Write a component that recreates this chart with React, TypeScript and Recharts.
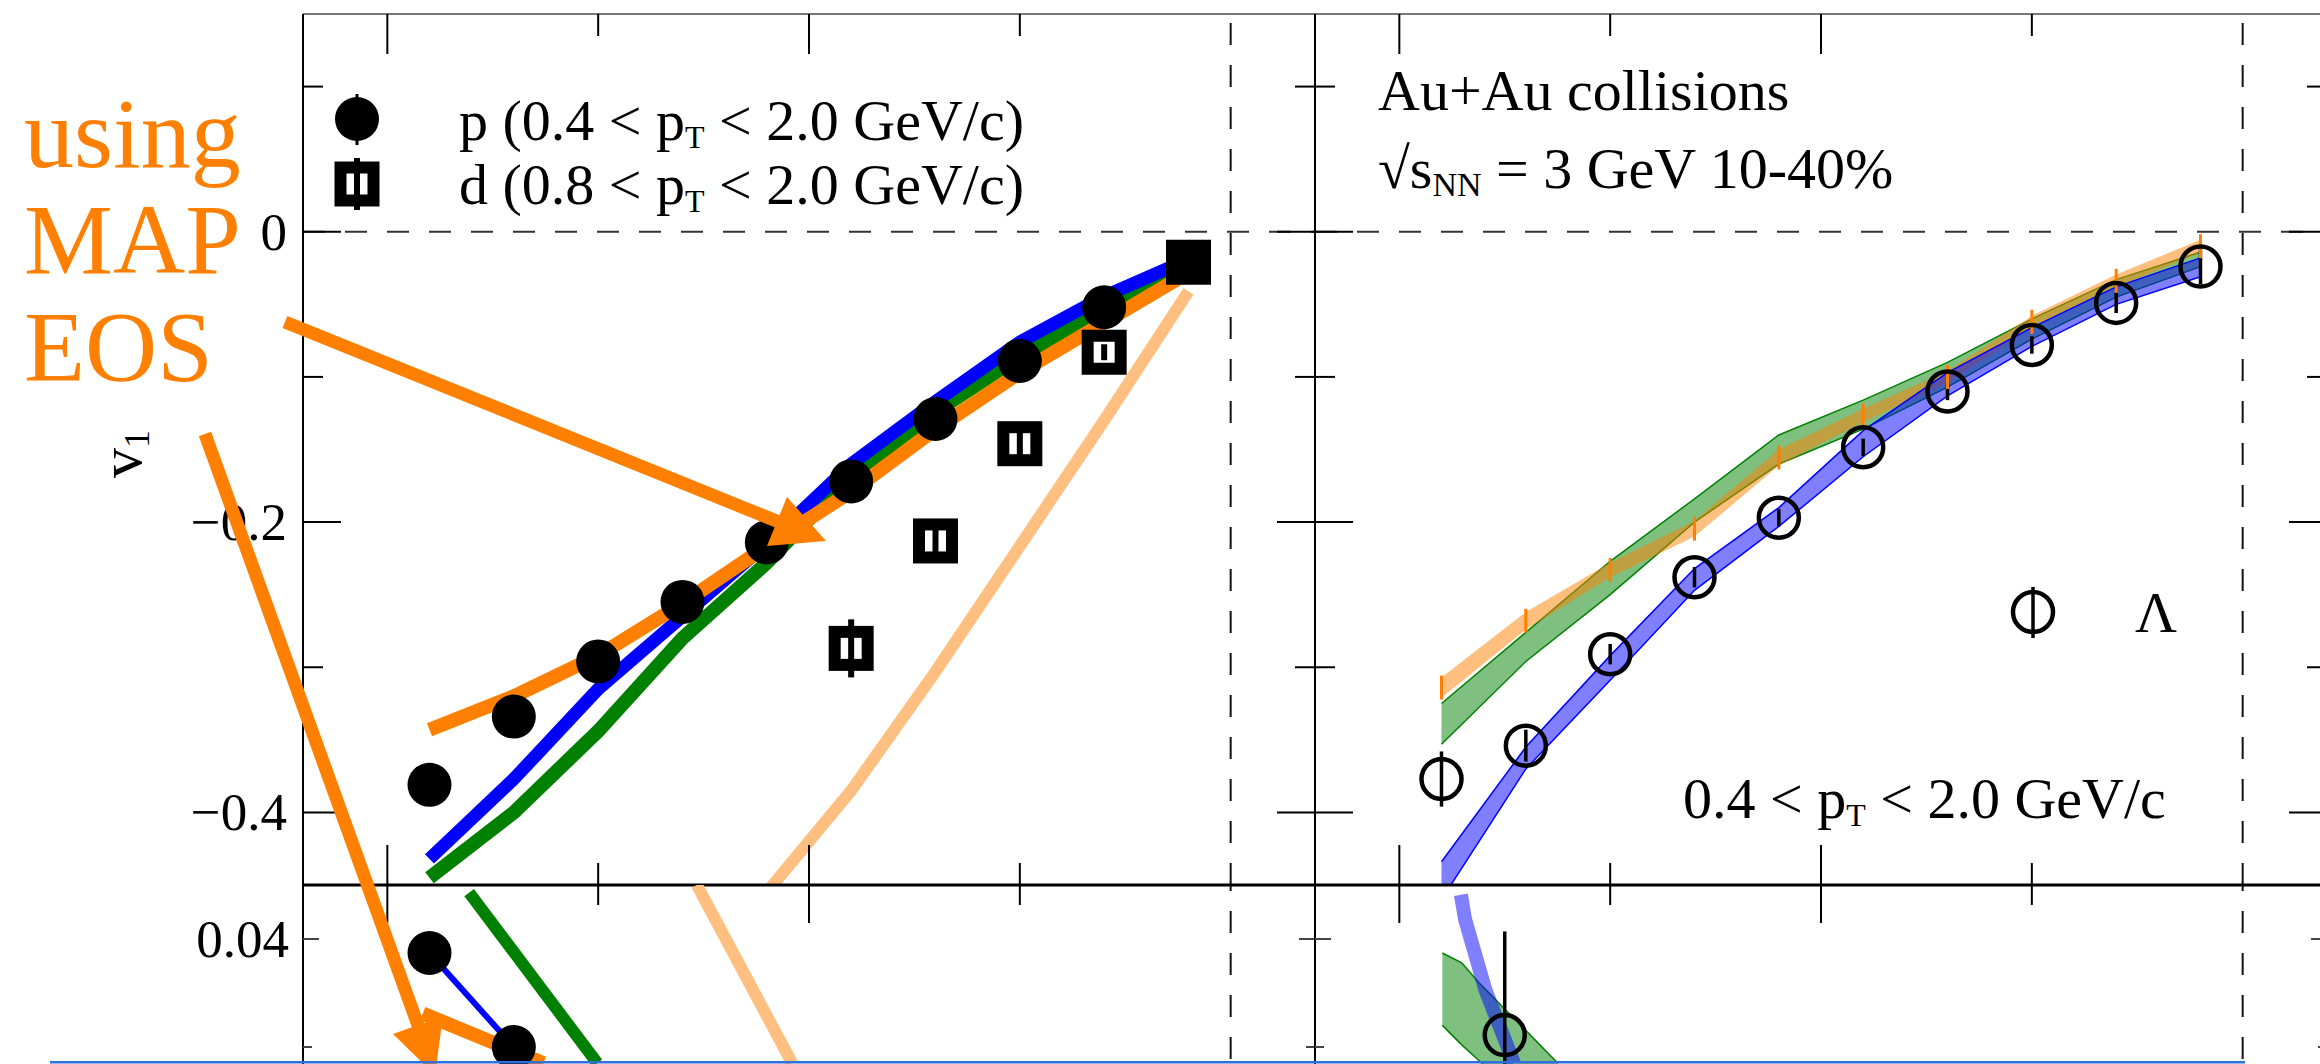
import React from 'react';
import { ComposedChart, Line, Area, Scatter, XAxis, YAxis, ReferenceLine, ErrorBar } from 'recharts';

// rapidity bins and v1 values
const RAPIDITY = [-0.95, -0.85, -0.75, -0.65, -0.55, -0.45, -0.35, -0.25, -0.15, -0.05];
const PROTON_V1 = [-0.381, -0.334, -0.296, -0.255, -0.214, -0.172, -0.129, -0.089, -0.052, -0.021];
const PROTON_BLUE = [-0.432, -0.377, -0.315, -0.265, -0.215, -0.16, -0.117, -0.076, -0.0445, -0.019];
const PROTON_GREEN = [-0.445, -0.4, -0.344, -0.28, -0.228, -0.168, -0.124, -0.086, -0.0535, -0.025];
const PROTON_MAP = [-0.343, -0.32, -0.292, -0.256, -0.2165, -0.179, -0.136, -0.097, -0.0625, -0.028];

const DEUTERON_RAPIDITY = [-0.45, -0.35, -0.25, -0.15, -0.05];
const DEUTERON_V1 = [-0.287, -0.213, -0.146, -0.083, -0.021];
const DEUTERON_ERR = [0.02, 0.009, 0.009, 0.0055, 0.009];
const DEUTERON_MAP_RAPIDITY = [-0.55, -0.45, -0.35, -0.25, -0.15, -0.05];
const DEUTERON_MAP = [-0.455, -0.385, -0.303, -0.2165, -0.13, -0.041];

const LAMBDA_V1 = [-0.377, -0.354, -0.291, -0.238, -0.197, -0.1485, -0.11, -0.078, -0.049, -0.024];
const LAMBDA_ERR = [0.019, 0.011, 0.007, 0.007, 0.006, 0.006, 0.006, 0.006, 0.007, 0.012];
const LAMBDA_BLUE_LO = [-0.46, -0.37, -0.309, -0.247, -0.203, -0.155, -0.113, -0.079, -0.05, -0.031];
const LAMBDA_BLUE_HI = [-0.434, -0.355, -0.292, -0.232, -0.19, -0.137, -0.097, -0.066, -0.038, -0.018];
const LAMBDA_GREEN_LO = [-0.353, -0.296, -0.25, -0.2, -0.16, -0.136, -0.107, -0.074, -0.045, -0.024];
const LAMBDA_GREEN_HI = [-0.325, -0.276, -0.227, -0.184, -0.14, -0.116, -0.09, -0.06, -0.033, -0.014];
const LAMBDA_MAP_LO = [-0.321, -0.274, -0.238, -0.21, -0.161, -0.131, -0.104, -0.066, -0.038, -0.0145];
const LAMBDA_MAP_HI = [-0.307, -0.262, -0.228, -0.199, -0.15, -0.122, -0.096, -0.058, -0.0295, -0.0055];

// lower (ratio) panels, only the top strip is visible
const LOW_P_RAPIDITY = [-0.95, -0.85];
const LOW_P = [0.0387, 0.03];
const LOW_GREEN_RAPIDITY = [-0.903, -0.751];
const LOW_GREEN = [0.0443, 0.0285];
const LOW_DMAP_RAPIDITY = [-0.633, -0.52];
const LOW_DMAP = [0.045, 0.0285];
const LOW_MAP_RAPIDITY = [-0.958, -0.815];
const LOW_MAP = [0.0331, 0.0285];
const LOW_L_RAPIDITY = [-0.875];
const LOW_L = [0.0311];
const LOW_L_ERR = [0.0096];
const LOW_L_BLUE_RAPIDITY = [-0.927, -0.922, -0.898, -0.864];
const LOW_L_BLUE = [0.0441, 0.0418, 0.0353, 0.0285];
const LOW_L_GREEN_RAPIDITY = [-0.949, -0.926, -0.905, -0.812];
const LOW_L_GREEN_LO = [0.032, 0.0302, 0.0287, 0.0218];
const LOW_L_GREEN_HI = [0.0387, 0.0378, 0.0359, 0.0285];

const X_TICKS = [-1, -0.75, -0.5, -0.25, 0];
const UP_TICKS = [0.1, 0, -0.1, -0.2, -0.3, -0.4];
const LOW_TICKS = [0.04, 0.03];

const SERIF = '"Liberation Serif", "Times New Roman", Times, serif';
const ORANGE = '#ff8000';
const LIGHT_ORANGE = '#ffbf80';

// layout (px)
const LEFT_X = 303;
const MID_X = 1315;
const PANEL_W = 1012;
const TOP_Y = 14;
const SPLIT_Y = 885;
const UP_H = SPLIT_Y - TOP_Y;
const LOW_H = 216;
const PAD = 60;
const LEFT_PAD = 300;
const RIGHT_PAD = 100;

const pts = (xs: number[], ys: number[]) => xs.map((x, i) => ({ x, y: ys[i] }));
const withErr = (xs: number[], ys: number[], es: number[]) => xs.map((x, i) => ({ x, y: ys[i], err: es[i] }));
const band = (xs: number[], lo: number[], hi: number[]) => xs.map((x, i) => ({ x, band: [lo[i], hi[i]] }));
const mid = (xs: number[], lo: number[], hi: number[]) => xs.map((x, i) => ({ x, y: (lo[i] + hi[i]) / 2 }));

const fmt = (v: number) => (v === 0 ? '0' : (v < 0 ? '\u2212' : '') + String(Math.abs(v)));

const tickText = (x: number, y: number, label: string) => (
  <text x={x} y={y} textAnchor="end" dominantBaseline="central" fontSize={53}
    fontFamily={SERIF} style={{ fontFamily: SERIF }} fill="#000">
    {label}
  </text>
);

const upperYTick = (labels: boolean) => (p: any) => {
  const v = p.payload.value;
  const major = Math.round(Math.abs(v) * 10) % 2 === 0;
  const len = major ? 38 : 20;
  return (
    <g>
      <line x1={p.x} x2={p.x + len} y1={p.y} y2={p.y} stroke="#000" strokeWidth={2} />
      <line x1={p.x + PANEL_W - len} x2={p.x + PANEL_W} y1={p.y} y2={p.y} stroke="#000" strokeWidth={2} />
      {labels && major ? tickText(p.x - 16, p.y, fmt(v)) : null}
    </g>
  );
};

const lowerYTick = (labels: boolean) => (p: any) => {
  const v = p.payload.value;
  const major = Math.abs(v - 0.04) < 1e-6;
  const len = major ? 16 : 9;
  return (
    <g>
      <line x1={p.x} x2={p.x + len} y1={p.y} y2={p.y} stroke="#444" strokeWidth={2} />
      <line x1={p.x + PANEL_W - len} x2={p.x + PANEL_W} y1={p.y} y2={p.y} stroke="#444" strokeWidth={2} />
      {labels && major ? tickText(p.x - 14, p.y, fmt(v)) : null}
    </g>
  );
};

const upperXTick = (p: any) => {
  const v = p.payload.value;
  if (v === 0) return <g />;
  const major = Math.round(Math.abs(v) * 4) % 2 === 0;
  const up = major ? 40 : 22;
  const down = major ? 38 : 20;
  return (
    <g>
      <line x1={p.x} x2={p.x} y1={p.y - up} y2={p.y + down} stroke="#000" strokeWidth={2} />
      <line x1={p.x} x2={p.x} y1={p.y - UP_H} y2={p.y - UP_H + up} stroke="#000" strokeWidth={2} />
    </g>
  );
};

const FilledCircle = (p: any) => <circle cx={p.cx} cy={p.cy} r={22} fill="#000" />;
const OpenSquare = (p: any) => (
  <rect x={p.cx - 16.5} y={p.cy - 16.5} width={33} height={33} fill="none" stroke="#000" strokeWidth={12} />
);
const OpenCircle = (p: any) => <circle cx={p.cx} cy={p.cy} r={20} fill="none" stroke="#000" strokeWidth={4.5} />;
const OrangeTick = (p: any) => (
  <line x1={p.cx} x2={p.cx} y1={p.cy - 12} y2={p.cy + 12} stroke={ORANGE} strokeWidth={3} />
);

export default function App() {
  const upperH = SPLIT_Y + PAD;
  const lowerH = PAD + LOW_H + 20;

  const upperX = (
    <XAxis type="number" dataKey="x" domain={[-1.1, 0.1]} ticks={X_TICKS} interval={0} allowDataOverflow
      height={1} tickSize={0} tickMargin={0} tick={upperXTick} tickLine={false}
      axisLine={{ stroke: '#000', strokeWidth: 3 }} />
  );
  const upperY = (labels: boolean) => (
    <YAxis type="number" domain={[-0.45, 0.15]} ticks={UP_TICKS} interval={0} allowDataOverflow
      width={1} tickSize={0} tickMargin={0} tick={upperYTick(labels)} tickLine={false}
      axisLine={{ stroke: '#000', strokeWidth: 2 }} />
  );
  const lowerX = <XAxis type="number" dataKey="x" domain={[-1.1, 0.1]} allowDataOverflow hide />;
  const lowerY = (labels: boolean) => (
    <YAxis type="number" domain={[0.025, 0.045]} ticks={LOW_TICKS} interval={0} allowDataOverflow
      width={1} tickSize={0} tickMargin={0} tick={lowerYTick(labels)} tickLine={false}
      axisLine={{ stroke: '#000', strokeWidth: 2 }} />
  );

  return (
    <div style={{ position: 'absolute', left: 0, top: 0, width: 2320, height: 1064, overflow: 'hidden', background: '#fff' }}>
      {/* upper left: p and d */}
      <div style={{ position: 'absolute', left: LEFT_X - LEFT_PAD, top: 0 }}>
        <ComposedChart width={LEFT_PAD + PANEL_W + PAD} height={upperH}
          margin={{ top: TOP_Y, right: PAD, bottom: PAD - 1, left: LEFT_PAD - 1 }}>
          {upperX}
          {upperY(true)}
          <ReferenceLine y={0.15} stroke="#777" strokeWidth={2} />
          <ReferenceLine x={0.1} stroke="#000" strokeWidth={2} />
          <ReferenceLine y={0} stroke="#333" strokeWidth={2} strokeDasharray="22 20" />
          <ReferenceLine x={0} stroke="#111" strokeWidth={2} strokeDasharray="22 20" />
          <Line data={pts(DEUTERON_MAP_RAPIDITY, DEUTERON_MAP)} dataKey="y" stroke={LIGHT_ORANGE} strokeWidth={12} dot={false} activeDot={false} isAnimationActive={false} />
          <Line data={pts(RAPIDITY, PROTON_GREEN)} dataKey="y" stroke="#008000" strokeWidth={14} dot={false} activeDot={false} isAnimationActive={false} />
          <Line data={pts(RAPIDITY, PROTON_BLUE)} dataKey="y" stroke="#0000ff" strokeWidth={13} dot={false} activeDot={false} isAnimationActive={false} />
          <Line data={pts(RAPIDITY, PROTON_MAP)} dataKey="y" stroke={ORANGE} strokeWidth={14} dot={false} activeDot={false} isAnimationActive={false} />
          <Scatter data={pts(RAPIDITY, PROTON_V1)} dataKey="y" shape={FilledCircle} isAnimationActive={false} />
          <Scatter data={withErr(DEUTERON_RAPIDITY, DEUTERON_V1, DEUTERON_ERR)} dataKey="y" shape={OpenSquare} isAnimationActive={false}>
            <ErrorBar dataKey="err" direction="y" width={0} stroke="#000" strokeWidth={6} />
          </Scatter>
        </ComposedChart>
      </div>

      {/* upper right: Lambda */}
      <div style={{ position: 'absolute', left: MID_X - RIGHT_PAD, top: 0 }}>
        <ComposedChart width={RIGHT_PAD + PANEL_W + PAD} height={upperH}
          margin={{ top: TOP_Y, right: PAD, bottom: PAD - 1, left: RIGHT_PAD - 1 }}>
          {upperX}
          {upperY(false)}
          <ReferenceLine y={0.15} stroke="#777" strokeWidth={2} />
          <ReferenceLine y={0} stroke="#333" strokeWidth={2} strokeDasharray="22 20" />
          <ReferenceLine x={0} stroke="#111" strokeWidth={2} strokeDasharray="22 20" />
          <Area data={band(RAPIDITY, LAMBDA_GREEN_LO, LAMBDA_GREEN_HI)} dataKey="band" type="linear" fill="#008000" fillOpacity={0.5} stroke="#008000" strokeWidth={1.5} dot={false} activeDot={false} isAnimationActive={false} />
          <Area data={band(RAPIDITY, LAMBDA_MAP_LO, LAMBDA_MAP_HI)} dataKey="band" type="linear" fill={ORANGE} fillOpacity={0.5} stroke="none" dot={false} activeDot={false} isAnimationActive={false} />
          <Area data={band(RAPIDITY, LAMBDA_BLUE_LO, LAMBDA_BLUE_HI)} dataKey="band" type="linear" fill="#0000ff" fillOpacity={0.5} stroke="#0000ff" strokeWidth={1.5} dot={false} activeDot={false} isAnimationActive={false} />
          <Scatter data={mid(RAPIDITY, LAMBDA_MAP_LO, LAMBDA_MAP_HI)} dataKey="y" shape={OrangeTick} isAnimationActive={false} />
          <Scatter data={withErr(RAPIDITY, LAMBDA_V1, LAMBDA_ERR)} dataKey="y" shape={OpenCircle} isAnimationActive={false}>
            <ErrorBar dataKey="err" direction="y" width={0} stroke="#000" strokeWidth={3.5} />
          </Scatter>
        </ComposedChart>
      </div>

      {/* lower left */}
      <div style={{ position: 'absolute', left: LEFT_X - LEFT_PAD, top: SPLIT_Y - PAD }}>
        <ComposedChart width={LEFT_PAD + PANEL_W + PAD} height={lowerH}
          margin={{ top: PAD, right: PAD, bottom: 20, left: LEFT_PAD - 1 }}>
          {lowerX}
          {lowerY(true)}
          <ReferenceLine x={0.1} stroke="#000" strokeWidth={2} />
          <ReferenceLine x={0} stroke="#111" strokeWidth={2} strokeDasharray="22 20" />
          <Line data={pts(LOW_DMAP_RAPIDITY, LOW_DMAP)} dataKey="y" stroke={LIGHT_ORANGE} strokeWidth={12} dot={false} activeDot={false} isAnimationActive={false} />
          <Line data={pts(LOW_GREEN_RAPIDITY, LOW_GREEN)} dataKey="y" stroke="#008000" strokeWidth={12} dot={false} activeDot={false} isAnimationActive={false} />
          <Line data={pts(LOW_MAP_RAPIDITY, LOW_MAP)} dataKey="y" stroke={ORANGE} strokeWidth={14} dot={false} activeDot={false} isAnimationActive={false} />
          <Line data={pts(LOW_P_RAPIDITY, LOW_P)} dataKey="y" stroke="#0000ff" strokeWidth={6} dot={false} activeDot={false} isAnimationActive={false} />
          <Scatter data={pts(LOW_P_RAPIDITY, LOW_P)} dataKey="y" shape={FilledCircle} isAnimationActive={false} />
        </ComposedChart>
      </div>

      {/* lower right */}
      <div style={{ position: 'absolute', left: MID_X - RIGHT_PAD, top: SPLIT_Y - PAD }}>
        <ComposedChart width={RIGHT_PAD + PANEL_W + PAD} height={lowerH}
          margin={{ top: PAD, right: PAD, bottom: 20, left: RIGHT_PAD - 1 }}>
          {lowerX}
          {lowerY(false)}
          <ReferenceLine x={0} stroke="#111" strokeWidth={2} strokeDasharray="22 20" />
          <Area data={band(LOW_L_GREEN_RAPIDITY, LOW_L_GREEN_LO, LOW_L_GREEN_HI)} dataKey="band" type="linear" fill="#008000" fillOpacity={0.5} stroke="#008000" strokeWidth={1.5} dot={false} activeDot={false} isAnimationActive={false} />
          <Line data={pts(LOW_L_BLUE_RAPIDITY, LOW_L_BLUE)} dataKey="y" stroke="#0000ff" strokeOpacity={0.5} strokeWidth={14} dot={false} activeDot={false} isAnimationActive={false} />
          <Scatter data={withErr(LOW_L_RAPIDITY, LOW_L, LOW_L_ERR)} dataKey="y" shape={OpenCircle} isAnimationActive={false}>
            <ErrorBar dataKey="err" direction="y" width={0} stroke="#000" strokeWidth={3.5} />
          </Scatter>
        </ComposedChart>
      </div>

      {/* annotations */}
      <svg width={2320} height={1064} style={{ position: 'absolute', left: 0, top: 0, pointerEvents: 'none', fontFamily: SERIF }}>
        {/* legend, left panel */}
        <line x1={357} x2={357} y1={94} y2={145} stroke="#000" strokeWidth={3} />
        <circle cx={357} cy={119} r={22} fill="#000" />
        <text x={459} y={140} fontSize={58} fill="#000">
          {'p (0.4 < p'}
          <tspan fontSize={32} dy={8}>T</tspan>
          <tspan dy={-8}>{' < 2.0 GeV/c)'}</tspan>
        </text>
        <line x1={357} x2={357} y1={158} y2={210} stroke="#000" strokeWidth={6} />
        <rect x={340.5} y={167.5} width={33} height={33} fill="none" stroke="#000" strokeWidth={12} />
        <text x={459} y={204} fontSize={58} fill="#000">
          {'d (0.8 < p'}
          <tspan fontSize={32} dy={8}>T</tspan>
          <tspan dy={-8}>{' < 2.0 GeV/c)'}</tspan>
        </text>

        {/* right panel text */}
        <text x={1378} y={110} fontSize={58} fill="#000">Au+Au collisions</text>
        <text x={1378} y={188} fontSize={58} fill="#000">
          {'\u221As'}
          <tspan fontSize={34} dy={8}>NN</tspan>
          <tspan dy={-8}>{' = 3 GeV 10-40%'}</tspan>
        </text>
        <line x1={2033} x2={2033} y1={587} y2={638} stroke="#000" strokeWidth={3.5} />
        <circle cx={2033} cy={612} r={20} fill="none" stroke="#000" strokeWidth={4.5} />
        <text x={2135} y={632} fontSize={58} fill="#000">{'\u039B'}</text>
        <text x={1683} y={818} fontSize={58} fill="#000">
          {'0.4 < p'}
          <tspan fontSize={32} dy={8}>T</tspan>
          <tspan dy={-8}>{' < 2.0 GeV/c'}</tspan>
        </text>

        {/* y title */}
        <text transform="translate(141,478) rotate(-90)" fontSize={60} fill="#000">
          v<tspan fontSize={36} dy={8}>1</tspan>
        </text>

        {/* orange note and arrows */}
        <text x={24} y={167} fontSize={100} fill={ORANGE}>using</text>
        <text x={24} y={273} fontSize={100} fill={ORANGE}>MAP</text>
        <text x={24} y={380} fontSize={100} fill={ORANGE}>EOS</text>
        <line x1={285} y1={322} x2={779} y2={522} stroke={ORANGE} strokeWidth={13} />
        <polygon points="787,497 826,541 767,546" fill={ORANGE} />
        <line x1={205} y1={434} x2={419} y2={1028} stroke={ORANGE} strokeWidth={13} />
        <polygon points="443,1016 435,1075 393,1034" fill={ORANGE} />

        {/* blue bar along the bottom */}
        <rect x={50} y={1061} width={2195} height={2.5} fill="#2f6fde" />
      </svg>
    </div>
  );
}
